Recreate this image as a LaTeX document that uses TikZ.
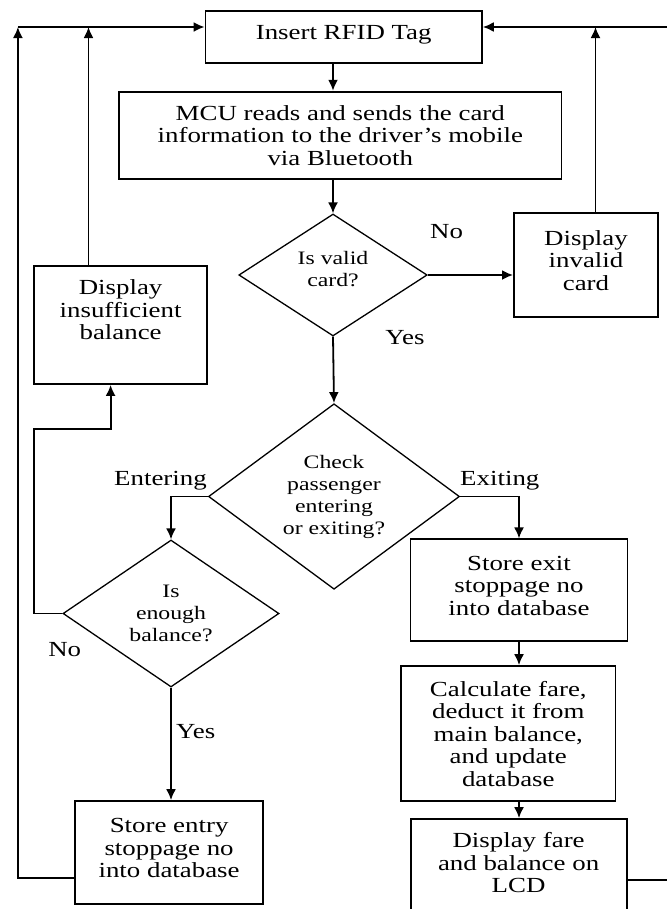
\documentclass[tikz,border=0pt]{standalone}
\usepackage{fontspec}
\setmainfont{Liberation Serif}[FakeStretch=1.25]
\usetikzlibrary{shapes.geometric, arrows.meta}

\begin{document}
\begin{tikzpicture}[x=1bp, y=-1bp,
	box/.style = {rectangle, draw, line width=1.8bp, align=center, inner sep=0pt,
		text depth=9bp, font=\fontsize{21.5bp}{22.5bp}\selectfont},
	decision/.style = {diamond, draw, line width=1.3bp, align=center, inner sep=0pt,
		font=\fontsize{19bp}{22bp}\selectfont},
	lbl/.style = {font=\fontsize{21.5bp}{22.5bp}\selectfont}]
	%\draw[help lines, step=50] (0,0) grid (667,909);
	\clip (0,0) rectangle (667,909);

	\node (tag) [box, minimum width=276.5bp, minimum height=52.3bp] at (343.7,37.2)
		{Insert RFID Tag};
	\node (mcu) [box, minimum width=442.4bp, minimum height=87.3bp, text depth=0bp] at (340.3,135.3)
		{MCU reads and sends the card\\
		 information to the driver's mobile\\
		 via Bluetooth};

	\node (valid) [decision, minimum width=188.4bp, minimum height=122bp, text depth=12bp] at (333,275)
		{Is valid\\card?};
	\node (invalid) [box, minimum width=144.2bp, minimum height=104bp] at (586,264.7)
		{Display\\invalid\\card};
	\node (insuff) [box, minimum width=173.1bp, minimum height=118bp, text depth=30bp] at (120.6,325)
		{Display\\insufficient\\balance};

	\node (check) [decision, minimum width=251bp, minimum height=184bp] at (334,496.5)
		{Check\\passenger\\entering\\or exiting?};
	\node (enough) [decision, minimum width=216bp, minimum height=147bp] at (171,613.5)
		{Is\\enough\\balance?};
	\node (entry) [box, minimum width=187.6bp, minimum height=103bp] at (169.1,852.5)
		{Store entry\\stoppage no\\into database};

	\node (exit) [box, minimum width=217bp, minimum height=101.4bp] at (519,590)
		{Store exit\\stoppage no\\into database};
	\node (calc) [box, minimum width=214.4bp, minimum height=135bp, text depth=0bp] at (508.3,733.5)
		{Calculate fare,\\deduct it from\\main balance,\\and update\\database};
	\node (fare) [box, minimum width=216bp, minimum height=96bp] at (518.6,867)
		{Display fare\\and balance on\\LCD};

	% branch labels
	\node (novalid) [lbl] at (446.6,232) {No};
	\node (yesvalid) [lbl] at (405,338) {Yes};
	\node (enterlbl) [lbl] at (160.5,481) {Entering};
	\node (exitlbl) [lbl] at (499.8,481) {Exiting};
	\node (nobal) [lbl] at (64.7,650) {No};
	\node (yesbal) [lbl] at (195.7,731.7) {Yes};

	% return lines
	\coordinate (topL) at (17.9,27);
	\coordinate (botL) at (17.9,878);
	\coordinate (topM) at (88.5,27);
	\coordinate (topR) at (595.5,27);
	\coordinate (rimT) at (700,27);
	\coordinate (rimB) at (700,880);
	\coordinate (nobend) at (34,429);
	\coordinate (noup) at (110.6,429);

	\begin{scope}[-{Latex[length=11bp, width=10bp]}, line width=1.8bp]
		\draw (tag.south -| valid) -- (mcu.north -| valid);
		\draw (mcu.south -| valid) -- (valid.north);
		\draw (valid.east) -- (valid.east -| invalid.west);
		\draw (valid.south) -- (check.north);
		\draw (check.west) -| (enough.north);
		\draw (check.east) -| (exit.north);
		\draw (exit.south) -- (exit.south |- calc.north);
		\draw (calc.south -| exit) -- (fare.north -| exit);
		\draw (enough.south) -- (enough.south |- entry.north);
		\draw (enough.west) -| (nobend) -- (noup) -- (noup |- insuff.south);
		\draw (insuff.north -| topM) -- (topM);
		\draw (invalid.north -| topR) -- (topR);
		\draw (entry.west |- botL) -- (botL) -- (topL);
		\draw (topL) -- (topL -| tag.west);
		\draw (fare.east |- rimB) -- (rimB) -- (rimT) -- (rimT -| tag.east);
	\end{scope}
\end{tikzpicture}
\end{document}
